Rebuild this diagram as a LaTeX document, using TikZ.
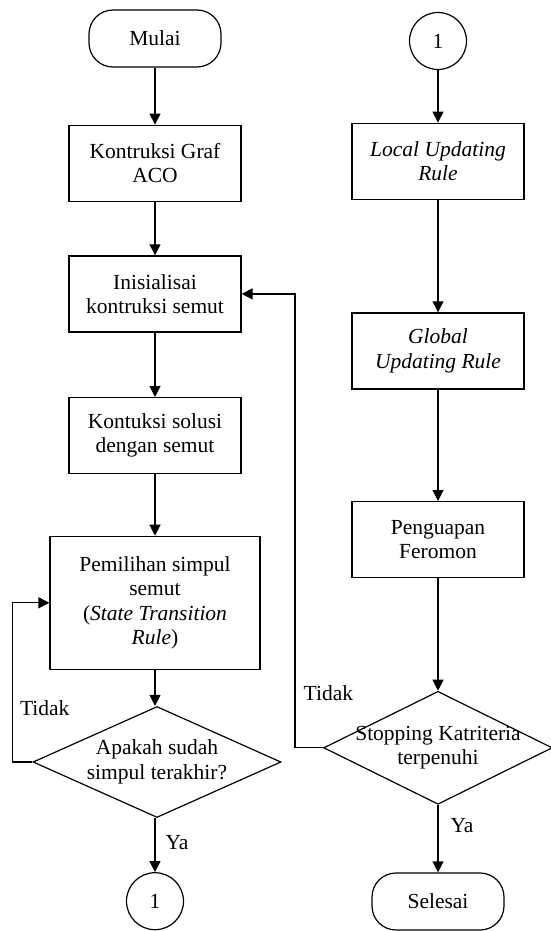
\documentclass[tikz,border=0pt]{standalone}
\usepackage{fontspec}
\setmainfont{Liberation Serif}
\usetikzlibrary{positioning,arrows.meta,shapes.geometric}

\begin{document}
\begin{tikzpicture}[
  x=1pt, y=1pt,
  >={Triangle[length=11pt,width=11pt]},
  font=\fontsize{21.5}{24.5}\selectfont,
  box/.style={draw, align=center, minimum width=172pt, minimum height=76pt,
              inner sep=2pt, line width=1.2pt},
  terminal/.style={draw, rounded corners=24pt, minimum width=132pt,
                   minimum height=57pt, line width=1.2pt},
  connector/.style={draw, circle, minimum size=57pt, inner sep=0pt, line width=1.2pt},
  decision/.style={diamond, draw, align=center, aspect=2.2, inner sep=0pt,
                   line width=1.2pt},
  flow/.style={->, line width=1.2pt},
  lbl/.style={inner sep=2pt},
]
\useasboundingbox (0,0) rectangle (550,-931);

% kolom kiri
\node[terminal] (mulai) at (155,-38.5) {Mulai};
\node[box, below=57pt of mulai] (graf) {Kontruksi Graf\\ACO};
\node[box, below=53.5pt of graf] (inisial) {Inisialisai\\kontruksi semut};
\node[box, below=64.5pt of inisial] (solusi) {Kontuksi solusi\\dengan semut};
\node[box, below=61.5pt of solusi, minimum width=210pt, minimum height=133pt] (pilih)
  {Pemilihan simpul\\semut\\(\textit{State Transition}\\\textit{Rule})};
\node[decision, below=36pt of pilih, xshift=2pt, minimum width=248pt, minimum height=111pt] (cek)
  {Apakah sudah\\simpul terakhir?};
\node[connector, below=54pt of cek, xshift=-2pt] (ke1) {1};

% kolom kanan
\node[connector] (dari1) at (438,-41) {1};
\node[box, below=52.5pt of dari1] (lokal) {\textit{Local Updating}\\\textit{Rule}};
\node[box, below=112.5pt of lokal] (global) {\textit{Global}\\\textit{Updating Rule}};
\node[box, below=111.5pt of global] (uap) {Penguapan\\Feromon};
\node[decision, below=112.5pt of uap, minimum width=226pt, minimum height=113pt,
      inner xsep=-16pt] (henti) {Stopping Katriteria\\terpenuhi};
\node[terminal, below=67.5pt of henti] (selesai) {Selesai};

\draw[flow] (mulai) -- (graf);
\draw[flow] (graf) -- (inisial);
\draw[flow] (inisial) -- (solusi);
\draw[flow] (solusi) -- (pilih);
\draw[flow] (pilih.south) -- (pilih.south |- cek.north);
\draw[flow] (cek.south -| ke1) -- node[lbl, right=8pt, pos=0.45]{Ya} (ke1);
\draw[flow] (cek.west) -- ++(-20,0) |- node[lbl, right=5pt, pos=0.17]{Tidak} (pilih.west);

\draw[flow] (dari1) -- (lokal);
\draw[flow] (lokal) -- (global);
\draw[flow] (global) -- (uap);
\draw[flow] (uap) -- (henti);
\draw[flow] (henti) -- node[lbl, right=10pt, pos=0.3]{Ya} (selesai);
\draw[flow] (henti.west) -- ++(-28,0) |- node[lbl, right=6pt, pos=0.06]{Tidak} (inisial.east);
\end{tikzpicture}
\end{document}
